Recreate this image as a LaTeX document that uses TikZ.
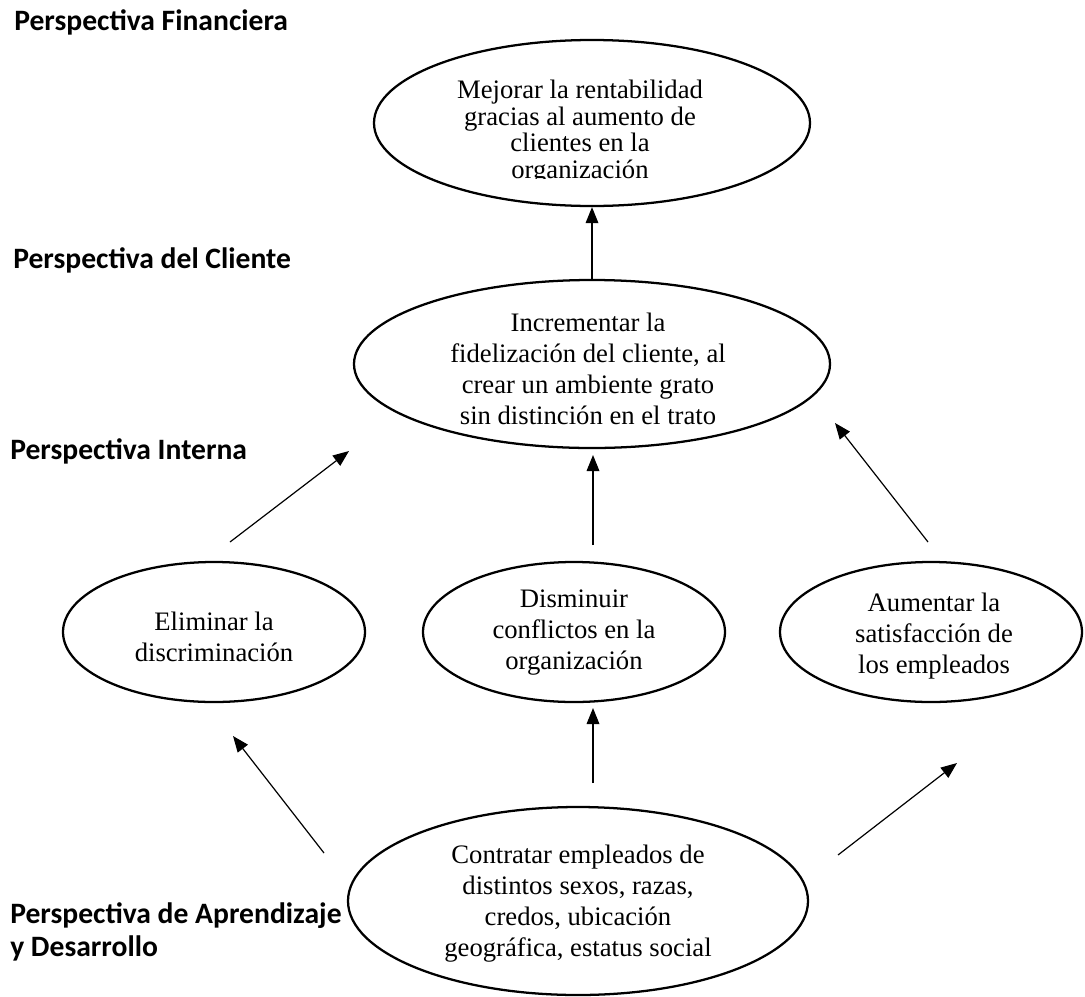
\documentclass[tikz,border=0pt]{standalone}
\usepackage{fontspec}
\setmainfont{Liberation Serif}
\newfontfamily\labelfont{Carlito}
\usetikzlibrary{arrows.meta,shapes.geometric}
\begin{document}
\begin{tikzpicture}[x=0.75pt,y=-0.75pt,
  oval/.style={draw,ellipse,line width=1.7pt,inner sep=0pt},
  otext/.style={align=center,font=\fontsize{20}{23.25}\selectfont,inner sep=0pt},
  persp/.style={anchor=west,align=left,inner sep=0pt,font=\labelfont\bfseries\fontsize{22.2}{24.75}\selectfont},
  arr/.style={line width=0.9pt,-{Triangle[length=12pt,width=9.5pt]}}]
\useasboundingbox (0,0) rectangle (1085,996);

% perspective labels
\node[persp] (lf) at (14,22) {Perspectiva Financiera};
\node[persp] (lc) at (13,260) {Perspectiva del Cliente};
\node[persp] (li) at (10,451) {Perspectiva Interna};
\node[persp] (la) at (10,932) {Perspectiva de Aprendizaje\\y Desarrollo};

% ellipses
\node[oval,minimum width=327pt,minimum height=124.5pt] (top) at (592,123) {};
\node[oval,minimum width=357pt,minimum height=126pt] (cli) at (592,364) {};
\node[oval,minimum width=226.5pt,minimum height=105pt] (elim) at (214,632) {};
\node[oval,minimum width=226.5pt,minimum height=105pt] (dism) at (574,632) {};
\node[oval,minimum width=226.5pt,minimum height=105pt] (aum) at (931,632) {};
\node[oval,minimum width=345pt,minimum height=141pt] (con) at (578,901) {};

% texts
\begin{scope}
\clip (380,40) rectangle (810,178);
\node[otext,font=\fontsize{20}{19.9}\selectfont] (topT) at (580,132) {Mejorar la rentabilidad\\gracias al aumento de\\clientes en la\\organización};
\end{scope}
\node[otext] (cliT) at (588,369) {Incrementar la\\fidelización del cliente, al\\crear un ambiente grato\\sin distinción en el trato};
\node[otext] (elimT) at (214,637) {Eliminar la\\discriminación};
\node[otext] (dismT) at (574,633) {Disminuir\\conflictos en la\\organización};
\node[otext] (aumT) at (934,636) {Aumentar la\\satisfacción de\\los empleados};
\node[otext] (conT) at (578,904) {Contratar empleados de\\distintos sexos, razas,\\credos, ubicación\\geográfica, estatus social};

% arrow end points
\coordinate (a2s) at (230,542);  \coordinate (a2e) at (349,451);
\coordinate (a3s) at (593,545);  \coordinate (a3e) at (593,455);
\coordinate (a4s) at (928,542);  \coordinate (a4e) at (835,423);
\coordinate (a5s) at (324,853);  \coordinate (a5e) at (233,736);
\coordinate (a6s) at (593,783);  \coordinate (a6e) at (593,708);
\coordinate (a7s) at (838,855);  \coordinate (a7e) at (957,763);

\draw[arr] (cli.north) -- (top.south);
\draw[arr] (a2s) -- (a2e);
\draw[arr] (a3s) -- (a3e);
\draw[arr] (a4s) -- (a4e);
\draw[arr] (a5s) -- (a5e);
\draw[arr] (a6s) -- (a6e);
\draw[arr] (a7s) -- (a7e);
\end{tikzpicture}
\end{document}
